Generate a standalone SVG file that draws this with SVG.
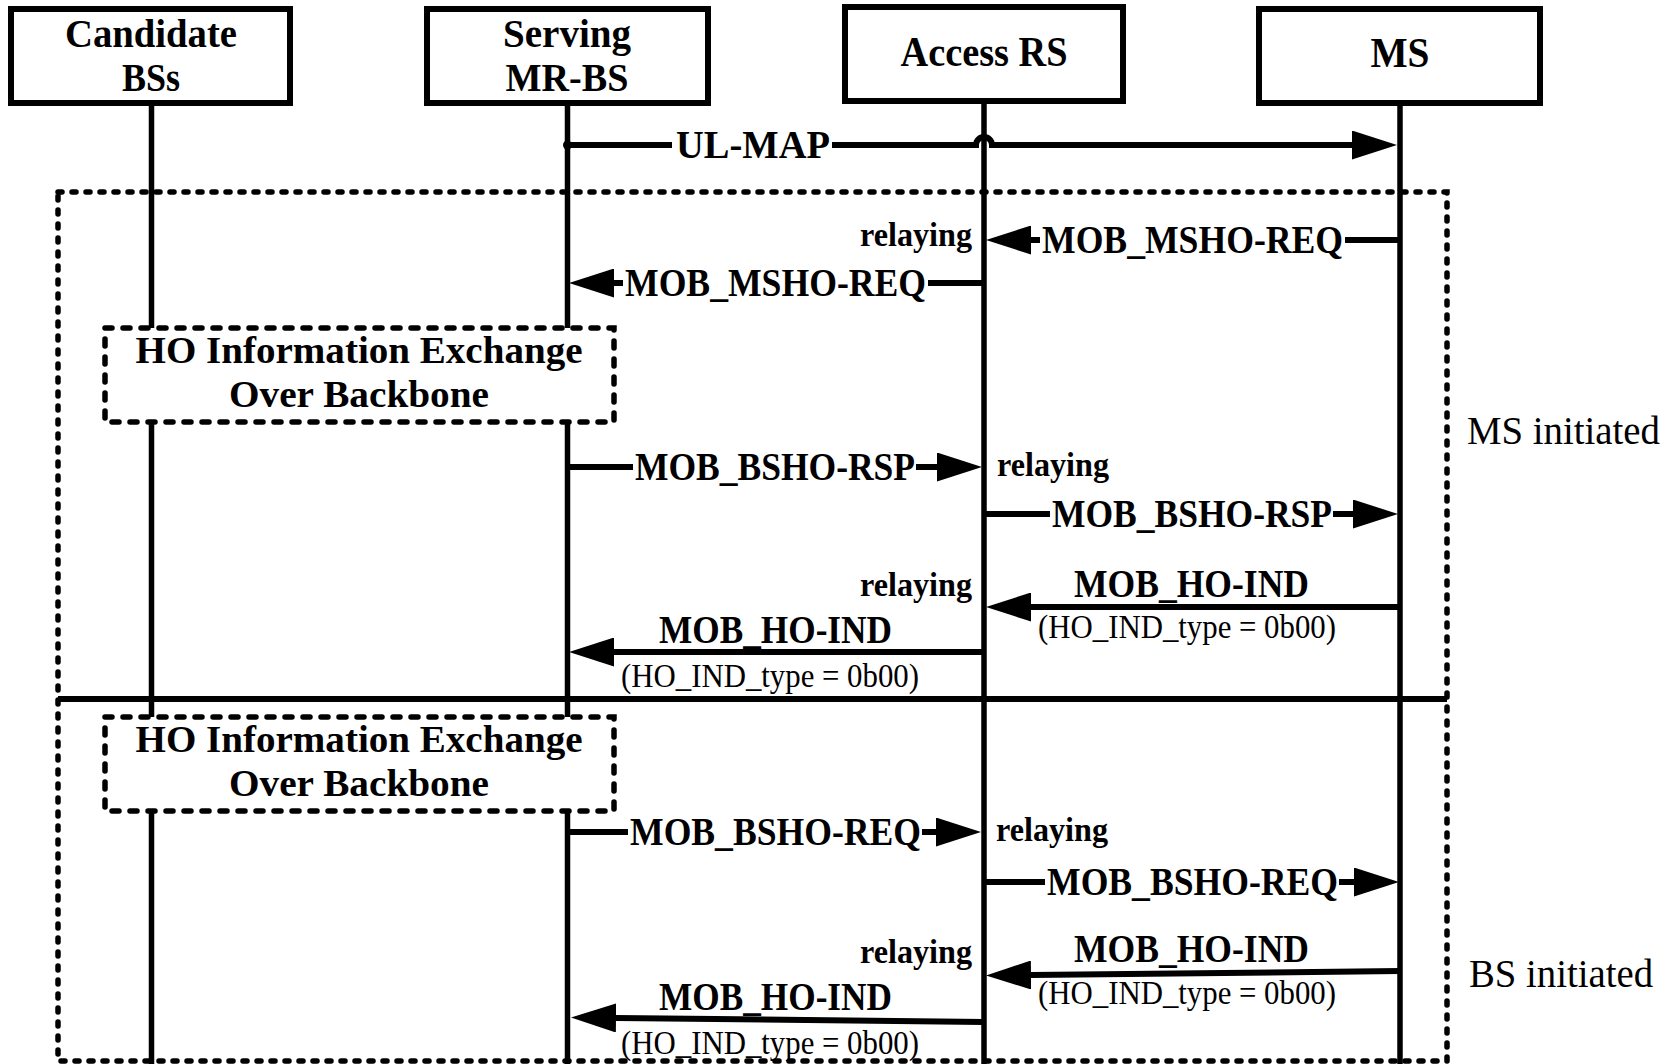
<svg xmlns="http://www.w3.org/2000/svg" width="1669" height="1064" viewBox="0 0 1669 1064">
<style>
.box{fill:#fff;stroke:#000;stroke-width:6}
.life{stroke:#000;stroke-width:5.5;fill:none}
.msg{stroke:#000;stroke-width:6;fill:none}
.outer{fill:none;stroke:#000;stroke-width:5.5;stroke-dasharray:4 10;stroke-linecap:round}
.hob{fill:#fff;stroke:#000;stroke-width:5.5;stroke-dasharray:7 11;stroke-linecap:round}
.hdr{font-family:"Liberation Serif","Times New Roman",serif;font-weight:bold;font-size:40px;text-anchor:middle}
.hdr1{font-family:"Liberation Serif","Times New Roman",serif;font-weight:bold;font-size:43px;text-anchor:middle}
.lbl{font-family:"Liberation Serif","Times New Roman",serif;font-weight:bold;font-size:39px}
.hot{font-family:"Liberation Serif","Times New Roman",serif;font-weight:bold;font-size:38px;text-anchor:middle}
.rel{font-family:"Liberation Serif","Times New Roman",serif;font-weight:bold;font-size:34px}
.sub{font-family:"Liberation Serif","Times New Roman",serif;font-size:33px}
.side{font-family:"Liberation Serif","Times New Roman",serif;font-size:40px}
</style>
<defs>
<marker id="ah" viewBox="0 0 45 29" refX="0" refY="14.5" markerWidth="45" markerHeight="29" markerUnits="userSpaceOnUse" orient="auto">
<path d="M0,0 L45,14.5 L0,29 Z" fill="#000"/>
</marker>
</defs>
<rect width="1669" height="1064" fill="#fff"/>

<!-- lifelines -->
<g id="lifelines">
<path class="life" d="M151.5 103 V328 M151.5 422 V717 M151.5 811 V1064"/>
<path class="life" d="M567.5 103 V328 M567.5 422 V717 M567.5 811 V1064"/>
<path class="life" d="M984 101 V1064"/>
<path class="life" d="M1400 103 V1064"/>
</g>

<!-- frames -->
<g id="frame-outer">
<rect class="outer" x="58" y="192" width="1389" height="869"/>
<line x1="58" y1="699" x2="1447" y2="699" stroke="#000" stroke-width="6"/>
<text class="side" x="1467" y="444" textLength="193" lengthAdjust="spacingAndGlyphs">MS initiated</text>
<text class="side" x="1469" y="987" textLength="184" lengthAdjust="spacingAndGlyphs">BS initiated</text>
</g>

<g id="node-candidate">
<rect class="box" x="11" y="9" width="279" height="94"/>
<text class="hdr" x="151" y="47" textLength="172" lengthAdjust="spacingAndGlyphs">Candidate</text>
<text class="hdr" x="151" y="91" textLength="58" lengthAdjust="spacingAndGlyphs">BSs</text>
</g>
<g id="node-serving">
<rect class="box" x="427" y="9" width="281" height="94"/>
<text class="hdr" x="567" y="47" textLength="128" lengthAdjust="spacingAndGlyphs">Serving</text>
<text class="hdr" x="567" y="91" textLength="123" lengthAdjust="spacingAndGlyphs">MR-BS</text>
</g>
<g id="node-access">
<rect class="box" x="845" y="7" width="278" height="94"/>
<text class="hdr1" x="984" y="66" textLength="167" lengthAdjust="spacingAndGlyphs">Access RS</text>
</g>
<g id="node-ms">
<rect class="box" x="1259" y="9" width="281" height="94"/>
<text class="hdr1" x="1400" y="67" textLength="59" lengthAdjust="spacingAndGlyphs">MS</text>
</g>

<g id="ho-exchange-1">
<rect class="hob" x="105" y="328" width="509" height="94"/>
<text class="hot" x="359" y="363" textLength="447" lengthAdjust="spacingAndGlyphs">HO Information Exchange</text>
<text class="hot" x="359" y="407" textLength="260" lengthAdjust="spacingAndGlyphs">Over Backbone</text>
</g>
<g id="ho-exchange-2">
<rect class="hob" x="105" y="717" width="509" height="94"/>
<text class="hot" x="359" y="752" textLength="447" lengthAdjust="spacingAndGlyphs">HO Information Exchange</text>
<text class="hot" x="359" y="796" textLength="260" lengthAdjust="spacingAndGlyphs">Over Backbone</text>
</g>

<!-- connectors -->
<g id="connectors">
<circle cx="567.5" cy="145" r="4.5" fill="#000"/>
<path class="msg" marker-end="url(#ah)" d="M567 145 H672 M832 145 H976 A8 8 0 0 1 992 145 H1352"/>
<path class="msg" marker-end="url(#ah)" d="M1400 240 H1345 M1040 240 H1031"/>
<path class="msg" marker-end="url(#ah)" d="M984 283 H928 M623 283 H614"/>
<path class="msg" marker-end="url(#ah)" d="M567 467 H633 M916 467 H937"/>
<path class="msg" marker-end="url(#ah)" d="M984 514 H1050 M1333 514 H1353"/>
<path class="msg" marker-end="url(#ah)" d="M1400 607 H1031"/>
<path class="msg" marker-end="url(#ah)" d="M984 652 H614"/>
<path class="msg" marker-end="url(#ah)" d="M567 832 H628 M922 832 H936"/>
<path class="msg" marker-end="url(#ah)" d="M984 882 H1045 M1339 882 H1354"/>
<path class="msg" marker-end="url(#ah)" d="M1400 971 L1031 975"/>
<path class="msg" marker-end="url(#ah)" d="M984 1022 L616 1018"/>
</g>

<g id="labels">
<text class="lbl" x="676" y="158" textLength="154" lengthAdjust="spacingAndGlyphs">UL-MAP</text>
<text class="rel" x="972" y="246" text-anchor="end" textLength="112" lengthAdjust="spacingAndGlyphs">relaying</text>
<text class="lbl" x="1042" y="253" textLength="301" lengthAdjust="spacingAndGlyphs">MOB_MSHO-REQ</text>
<text class="lbl" x="625" y="296" textLength="301" lengthAdjust="spacingAndGlyphs">MOB_MSHO-REQ</text>
<text class="lbl" x="635" y="480" textLength="280" lengthAdjust="spacingAndGlyphs">MOB_BSHO-RSP</text>
<text class="rel" x="997" y="476" textLength="112" lengthAdjust="spacingAndGlyphs">relaying</text>
<text class="lbl" x="1052" y="527" textLength="280" lengthAdjust="spacingAndGlyphs">MOB_BSHO-RSP</text>
<text class="rel" x="972" y="596" text-anchor="end" textLength="112" lengthAdjust="spacingAndGlyphs">relaying</text>
<text class="lbl" x="1074" y="597" textLength="235" lengthAdjust="spacingAndGlyphs">MOB_HO-IND</text>
<text class="sub" x="1038" y="638" textLength="298" lengthAdjust="spacingAndGlyphs">(HO_IND_type = 0b00)</text>
<text class="lbl" x="659" y="643" textLength="233" lengthAdjust="spacingAndGlyphs">MOB_HO-IND</text>
<text class="sub" x="621" y="687" textLength="298" lengthAdjust="spacingAndGlyphs">(HO_IND_type = 0b00)</text>
<text class="lbl" x="630" y="845" textLength="291" lengthAdjust="spacingAndGlyphs">MOB_BSHO-REQ</text>
<text class="rel" x="996" y="841" textLength="112" lengthAdjust="spacingAndGlyphs">relaying</text>
<text class="lbl" x="1047" y="895" textLength="291" lengthAdjust="spacingAndGlyphs">MOB_BSHO-REQ</text>
<text class="rel" x="972" y="963" text-anchor="end" textLength="112" lengthAdjust="spacingAndGlyphs">relaying</text>
<text class="lbl" x="1074" y="962" textLength="235" lengthAdjust="spacingAndGlyphs">MOB_HO-IND</text>
<text class="sub" x="1038" y="1004" textLength="298" lengthAdjust="spacingAndGlyphs">(HO_IND_type = 0b00)</text>
<text class="lbl" x="659" y="1010" textLength="233" lengthAdjust="spacingAndGlyphs">MOB_HO-IND</text>
<text class="sub" x="621" y="1054" textLength="298" lengthAdjust="spacingAndGlyphs">(HO_IND_type = 0b00)</text>
</g>
</svg>
